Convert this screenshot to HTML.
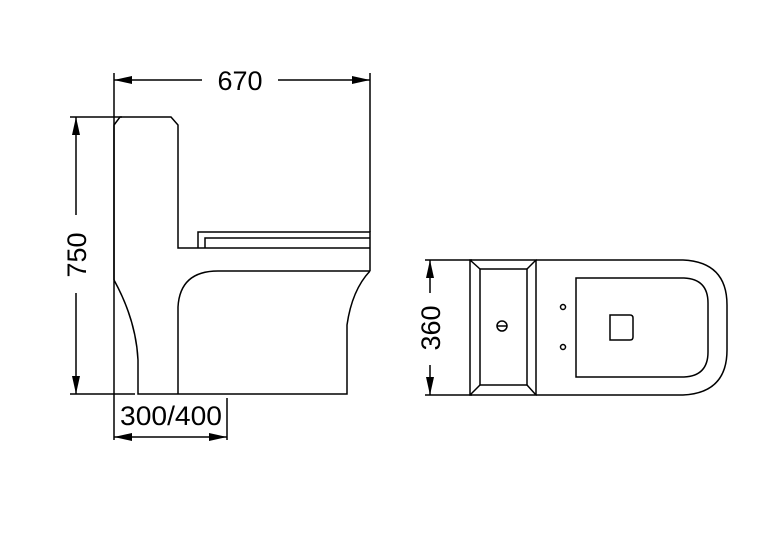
<!DOCTYPE html>
<html><head><style>body{margin:0;background:#fff}svg{display:block}</style></head><body>
<svg width="777" height="538" viewBox="0 0 777 538" xmlns="http://www.w3.org/2000/svg">
<g fill="none" stroke="#000" stroke-width="1.5">
<line x1="114" y1="73" x2="114" y2="440"/>
<line x1="370" y1="73" x2="370" y2="232"/>
<line x1="114" y1="80" x2="202" y2="80"/>
<line x1="278" y1="80" x2="370" y2="80"/>
<line x1="70" y1="117" x2="122" y2="117"/>
<line x1="70" y1="394" x2="135" y2="394"/>
<line x1="76" y1="117" x2="76" y2="215"/>
<line x1="76" y1="293" x2="76" y2="394"/>
<line x1="227" y1="398" x2="227" y2="440"/>
<line x1="114" y1="437" x2="227" y2="437"/>
<path d="M114 280 L114 125 L120 117 L171 117 L178 125 L178 248 L370 248"/>
<path d="M198 248 L198 232 L370 232 L370 271"/>
<path d="M205 248 L205 238 L370 238"/>
<path d="M114 280 Q136 320 138 360 L138 394 L347 394 L347 325 Q352 290 370 271"/>
<path d="M178 394 L178 307 Q180 271 218 271 L370 271"/>
<line x1="425" y1="260" x2="472" y2="260"/>
<line x1="425" y1="395" x2="472" y2="395"/>
<line x1="430" y1="260" x2="430" y2="293"/>
<line x1="430" y1="365" x2="430" y2="395"/>
<rect x="470" y="260" width="66" height="135"/>
<rect x="480" y="269" width="47" height="116"/>
<line x1="470" y1="260" x2="480" y2="269"/><line x1="536" y1="260" x2="527" y2="269"/>
<line x1="470" y1="395" x2="480" y2="385"/><line x1="536" y1="395" x2="527" y2="385"/>
<path d="M536 260 L683 260 Q727 262 727 305 L727 350 Q727 393 683 395 L536 395"/>
<path d="M576 278 L684 278 Q708 279 708 303 L708 352 Q708 376 684 377 L576 377 Z"/>
<circle cx="563" cy="307" r="2.5"/><circle cx="563" cy="347" r="2.5"/>
<path d="M610 315 L630 315 Q633 315 633 318 L633 337 Q633 340 630 340 L610 340 Z"/>
<circle cx="502" cy="326" r="5"/><line x1="497" y1="326" x2="507" y2="326"/>
</g>
<g fill="#000">
<polygon points="114,80 132,76 132,84"/>
<polygon points="370,80 352,76 352,84"/>
<polygon points="76,117 72,135 80,135"/>
<polygon points="76,394 72,376 80,376"/>
<polygon points="114,437 132,433 132,441"/>
<polygon points="227,437 209,433 209,441"/>
<polygon points="430,260 426,278 434,278"/>
<polygon points="430,395 426,377 434,377"/>
</g>
<g font-family="'Liberation Sans',sans-serif" font-size="27" fill="#000" text-anchor="middle">
<text x="240" y="90">670</text>
<text x="171" y="425" textLength="102" lengthAdjust="spacingAndGlyphs">300/400</text>
<text transform="translate(86,255) rotate(-90)">750</text>
<text transform="translate(440,328) rotate(-90)">360</text>
</g>
</svg>
</body></html>
